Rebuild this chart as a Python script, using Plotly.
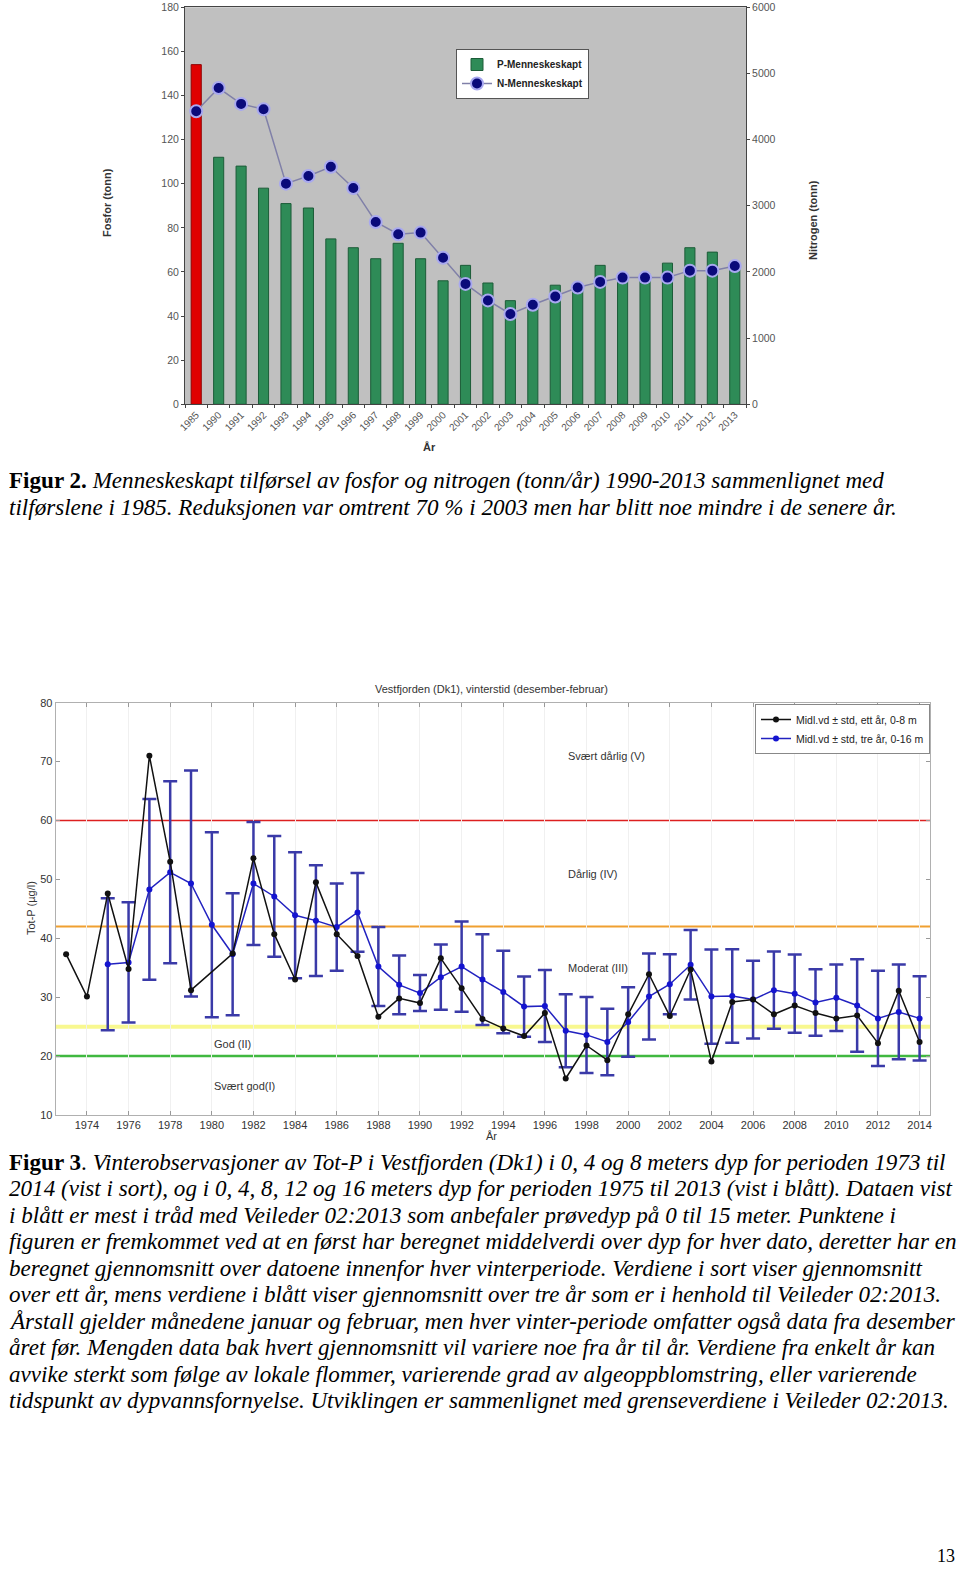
import plotly.graph_objects as go

W, H = 960, 1569


def fx(x):
    return x / W


def fy(y):
    return 1 - y / H


# ---------------- Figure 2 data ----------------
years_top = ["1985", "1990", "1991", "1992", "1993", "1994", "1995", "1996", "1997",
             "1998", "1999", "2000", "2001", "2002", "2003", "2004", "2005", "2006",
             "2007", "2008", "2009", "2010", "2011", "2012", "2013"]
fosfor = [154, 112, 108, 98, 91, 89, 75, 71, 66, 73, 66, 56, 63, 55, 47, 45, 54, 52,
          63, 59, 58, 64, 71, 69, 64]
nitrogen = [4430, 4780, 4540, 4460, 3335, 3450, 3590, 3270, 2755, 2570, 2595, 2215,
            1820, 1570, 1365, 1505, 1630, 1765, 1850, 1915, 1915, 1915, 2020, 2020, 2090]

# ---------------- Figure 3 data ----------------
years_black = [1973, 1974, 1975, 1976, 1977, 1978, 1979, 1981, 1982, 1983, 1984, 1985,
               1986, 1987, 1988, 1989, 1990, 1991, 1992, 1993, 1994, 1995, 1996, 1997,
               1998, 1999, 2000, 2001, 2002, 2003, 2004, 2005, 2006, 2007, 2008, 2009,
               2010, 2011, 2012, 2013, 2014]
black_vals = [37.3, 30.1, 47.6, 34.8, 71.0, 53.0, 31.2, 37.4, 53.6, 40.7, 33.0, 49.5,
              40.7, 37.0, 26.7, 29.8, 29.0, 36.6, 31.5, 26.3, 24.7, 23.4, 27.3, 16.2,
              21.8, 19.3, 27.1, 33.9, 26.8, 34.7, 19.1, 29.2, 29.6, 27.1, 28.6, 27.3,
              26.4, 26.9, 22.2, 31.1, 22.4]

years_blue = [1975, 1976, 1977, 1978, 1979, 1980, 1981, 1982, 1983, 1984, 1985, 1986,
              1987, 1988, 1989, 1990, 1991, 1992, 1993, 1994, 1995, 1996, 1997, 1998,
              1999, 2000, 2001, 2002, 2003, 2004, 2005, 2006, 2007, 2008, 2009, 2010,
              2011, 2012, 2013, 2014]
blue_vals = [35.6, 35.9, 48.3, 51.2, 49.3, 42.3, 37.3, 49.3, 47.1, 43.9, 43.0, 41.9,
             44.4, 35.2, 32.1, 30.7, 33.4, 35.2, 33.0, 30.9, 28.4, 28.5, 24.3, 23.6,
             22.4, 25.8, 30.1, 32.2, 35.5, 30.1, 30.2, 29.6, 31.2, 30.6, 29.1, 29.9,
             28.6, 26.4, 27.5, 26.4]
blue_std = [11.2, 10.2, 15.35, 15.45, 19.2, 15.7, 10.35, 10.45, 10.25, 10.7, 9.4, 7.4,
            6.7, 6.7, 5.0, 3.05, 5.55, 7.65, 7.7, 7.0, 5.1, 6.1, 6.2, 6.45,
            5.65, 5.9, 7.3, 5.1, 5.9, 8.0, 7.95, 6.6, 6.55, 6.65, 5.65, 5.65,
            7.85, 8.1, 8.05, 7.15]

x_ticks_bottom = [1974, 1976, 1978, 1980, 1982, 1984, 1986, 1988, 1990, 1992, 1994,
                  1996, 1998, 2000, 2002, 2004, 2006, 2008, 2010, 2012, 2014]

class_limits = [60, 42, 25, 20]
class_colors = ["#dd2020", "#f0a030", "#f8f890", "#40b840"]
class_widths = [1.5, 2, 4, 2.5]

class_labels = ["Svært dårlig (V)", "Dårlig (IV)", "Moderat (III)", "God (II)", "Svært god(I)"]
class_label_x = [1997, 1997, 1997, 1980, 1980]
class_label_y = [71, 51, 35, 22, 15]

fig = go.Figure()

# ---------------- Figure 2 ----------------
fig.add_trace(go.Bar(x=years_top[:1], y=fosfor[:1], xaxis="x", yaxis="y",
                     marker=dict(color="#e00000", line=dict(color="#900000", width=1)),
                     width=0.45, showlegend=False, name="1985"))
fig.add_trace(go.Bar(x=years_top[1:], y=fosfor[1:], xaxis="x", yaxis="y",
                     marker=dict(color="#2e8b57", line=dict(color="#1c5c38", width=1)),
                     width=0.45, name="P-Menneskeskapt", legend="legend"))
fig.add_trace(go.Scatter(x=years_top, y=nitrogen, xaxis="x", yaxis="y2",
                         mode="lines+markers", name="N-Menneskeskapt", legend="legend",
                         line=dict(color="#8080a8", width=1.5),
                         marker=dict(color="#0a0a7a", size=12,
                                     line=dict(color="#a8a8f0", width=2))))

# ---------------- Figure 3 ----------------
fig.add_trace(go.Scatter(x=years_blue, y=blue_vals, xaxis="x2", yaxis="y3",
                         mode="lines+markers", name="Midl.vd ± std, tre år, 0-16 m",
                         legend="legend2", legendrank=2,
                         line=dict(color="#2222c0", width=1.5),
                         marker=dict(color="#1414d0", size=6),
                         error_y=dict(type="data", array=blue_std, visible=True,
                                      color="#3a3aa8", thickness=2.5, width=7)))
fig.add_trace(go.Scatter(x=years_black, y=black_vals, xaxis="x2", yaxis="y3",
                         mode="lines+markers", name="Midl.vd ± std, ett år, 0-8 m",
                         legend="legend2", legendrank=1,
                         line=dict(color="#111111", width=1.5),
                         marker=dict(color="#111111", size=6)))

shapes = [dict(type="rect", xref="x domain", yref="y domain", x0=0, x1=1, y0=0, y1=1,
               fillcolor="#c0c0c0", line=dict(width=0), layer="below")]
for v, c, w in zip(class_limits, class_colors, class_widths):
    shapes.append(dict(type="line", xref="x2 domain", yref="y3", x0=0, x1=1, y0=v, y1=v,
                       line=dict(color=c, width=w), layer="below"))

ann = []
for t, xv, yv in zip(class_labels, class_label_x, class_label_y):
    ann.append(dict(text=t, x=xv, y=yv, xref="x2", yref="y3", xanchor="left",
                    yanchor="middle", showarrow=False,
                    font=dict(family="Arial", size=11, color="#333")))


def A(text, x, y, size, xanchor="center", angle=0, family="Arial", color="#333"):
    ann.append(dict(text=text, x=fx(x), y=fy(y), xref="paper", yref="paper",
                    xanchor=xanchor, yanchor="middle", showarrow=False, textangle=angle,
                    font=dict(family=family, size=size, color=color)))


A("<b>Fosfor (tonn)</b>", 107, 203, 11, angle=-90)
A("<b>Nitrogen (tonn)</b>", 813, 220, 11, angle=-90)
A("<b>År</b>", 429, 447, 11)
A("Vestfjorden (Dk1), vinterstid (desember-februar)", 492, 689, 11)
A("Tot-P (µg/l)", 31, 908, 11, angle=-90)
A("År", 492, 1136, 11)

serif = "Liberation Serif"
cap_size = 23.1
cap2 = [
    "<b>Figur 2.</b> <i>Menneskeskapt tilførsel av fosfor og nitrogen (tonn/år) 1990-2013 sammenlignet med</i>",
    "<i>tilførslene i 1985. Reduksjonen var omtrent 70 % i 2003 men har blitt noe mindre i de senere år.</i>",
]
for i, t in enumerate(cap2):
    A(t, 7, 480 + i * 26.5, cap_size, xanchor="left", family=serif, color="#000")

cap3 = [
    "<b>Figur 3</b>. <i>Vinterobservasjoner av Tot-P i Vestfjorden (Dk1) i 0, 4 og 8 meters dyp for perioden 1973 til</i>",
    "<i>2014 (vist i sort), og i 0, 4, 8, 12 og 16 meters dyp for perioden 1975 til 2013 (vist i blått). Dataen vist</i>",
    "<i>i blått er mest i tråd med Veileder 02:2013 som anbefaler prøvedyp på 0 til 15 meter. Punktene i</i>",
    "<i>figuren er fremkommet ved at en først har beregnet middelverdi over dyp for hver dato, deretter har en</i>",
    "<i>beregnet gjennomsnitt over datoene innenfor hver vinterperiode. Verdiene i sort viser gjennomsnitt</i>",
    "<i>over ett år, mens verdiene i blått viser gjennomsnitt over tre år som er i henhold til Veileder 02:2013.</i>",
    "<i>Årstall gjelder månedene januar og februar, men hver vinter-periode omfatter også data fra desember</i>",
    "<i>året før. Mengden data bak hvert gjennomsnitt vil variere noe fra år til år. Verdiene fra enkelt år kan</i>",
    "<i>avvike sterkt som følge av lokale flommer, varierende grad av algeoppblomstring, eller varierende</i>",
    "<i>tidspunkt av dypvannsfornyelse. Utviklingen er sammenlignet med grenseverdiene i Veileder 02:2013.</i>",
]
for i, t in enumerate(cap3):
    A(t, 7, 1162 + i * 26.45, cap_size, xanchor="left", family=serif, color="#000")

A("13", 946, 1556, 18, family=serif, color="#000")

tick_top = dict(family="Arial", size=10.5, color="#555")
tick_bot = dict(family="Arial", size=11, color="#333")
fig.update_layout(
    width=W, height=H, margin=dict(l=0, r=0, t=0, b=0, pad=0, autoexpand=False),
    paper_bgcolor="white", plot_bgcolor="rgba(0,0,0,0)",
    barmode="overlay", showlegend=True,
    xaxis=dict(domain=[fx(185), fx(746)], anchor="y", type="category", automargin=False,
               range=[-0.5, len(years_top) - 0.5], autorange=False,
               tickangle=-45, tickfont=dict(family="Arial", size=10, color="#555"),
               ticks="outside", ticklen=3,
               tickson="boundaries", showline=True, linecolor="#444", mirror=True,
               showgrid=False, zeroline=False),
    yaxis=dict(domain=[fy(404.3), fy(7.3)], range=[0, 180], dtick=20, ticks="outside",
               automargin=False,
               ticklen=3, tickfont=tick_top, showline=True, linecolor="#444",
               showgrid=False, zeroline=False),
    yaxis2=dict(overlaying="y", side="right", anchor="x", range=[0, 6000], dtick=1000,
                automargin=False,
                ticks="outside", ticklen=3, tickfont=tick_top, showline=True,
                linecolor="#444", showgrid=False, zeroline=False),
    xaxis2=dict(domain=[fx(55.7), fx(930)], anchor="y3", range=[1972.5, 2014.5],
                automargin=False,
                tickvals=x_ticks_bottom, ticks="inside", ticklen=4, mirror="ticks",
                showline=True, linecolor="#b0b0b0", tickcolor="#999",
                showgrid=True, gridcolor="#f0f0f0", zeroline=False,
                tickfont=tick_bot),
    yaxis3=dict(domain=[fy(1115), fy(702.7)], anchor="x2", range=[10, 80], dtick=10,
                automargin=False,
                ticks="inside", ticklen=4, mirror="ticks", showline=True,
                linecolor="#b0b0b0", tickcolor="#999", showgrid=False, zeroline=False,
                tickfont=tick_bot),
    legend=dict(x=fx(456), y=fy(49), xanchor="left", yanchor="top",
                bgcolor="white", bordercolor="#555", borderwidth=1,
                font=dict(family="Arial", size=10, color="#222", weight="bold"),
                tracegroupgap=0, itemwidth=30),
    legend2=dict(x=fx(755), y=fy(704), xanchor="left", yanchor="top",
                 bgcolor="white", bordercolor="#888", borderwidth=1,
                 font=dict(family="Arial", size=10.5, color="#222"),
                 tracegroupgap=0, itemwidth=30),
    shapes=shapes, annotations=ann,
)

fig.write_html("out.html", include_plotlyjs=True,
               config={"displayModeBar": False},
               post_script="document.body.style.margin='0';")
